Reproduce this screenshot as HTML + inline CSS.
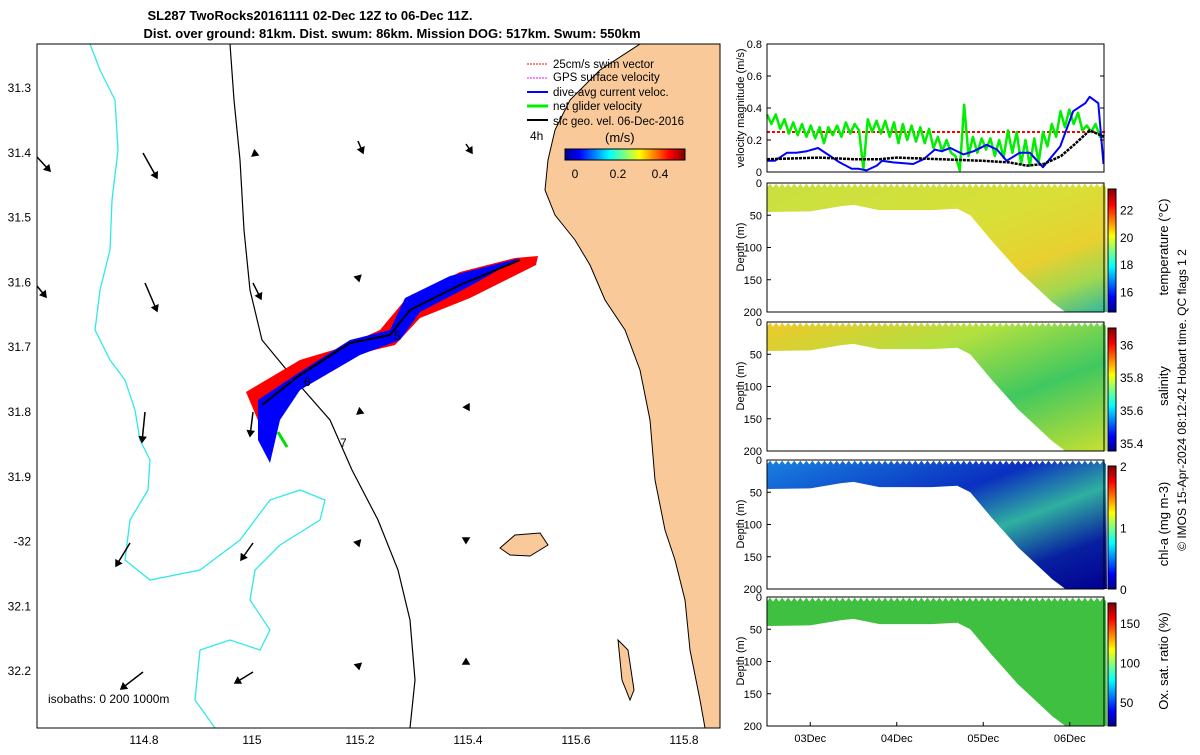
<!DOCTYPE html>
<html><head><meta charset="utf-8"><style>
body{margin:0;background:#fff;font-family:"Liberation Sans",sans-serif}
svg text{font-family:"Liberation Sans",sans-serif}
</style></head><body>
<svg id="s" width="1200" height="750" viewBox="0 0 1200 750" xmlns="http://www.w3.org/2000/svg">
<defs>
<linearGradient id="jet" x1="0" x2="1" y1="0" y2="0"><stop offset="0" stop-color="#00008f"/><stop offset=".12" stop-color="#0000ff"/><stop offset=".37" stop-color="#00ffff"/><stop offset=".5" stop-color="#7fff7f"/><stop offset=".62" stop-color="#ffff00"/><stop offset=".87" stop-color="#ff0000"/><stop offset="1" stop-color="#800000"/></linearGradient>
<linearGradient id="jetv" x1="0" x2="0" y1="1" y2="0"><stop offset="0" stop-color="#00008f"/><stop offset=".12" stop-color="#0000ff"/><stop offset=".37" stop-color="#00ffff"/><stop offset=".5" stop-color="#7fff7f"/><stop offset=".62" stop-color="#ffff00"/><stop offset=".87" stop-color="#ff0000"/><stop offset="1" stop-color="#800000"/></linearGradient>
<linearGradient id="gT" x1="0" x2="1" y1="0" y2="1"><stop offset="0" stop-color="#c8e040"/><stop offset=".45" stop-color="#d8e038"/><stop offset=".7" stop-color="#e8d030"/><stop offset=".85" stop-color="#a0d850"/><stop offset="1" stop-color="#30b8a0"/></linearGradient>
<linearGradient id="gS" x1="0" x2="1" y1="0" y2="1"><stop offset="0" stop-color="#f0c82a"/><stop offset=".35" stop-color="#b0e040"/><stop offset=".65" stop-color="#40c860"/><stop offset="1" stop-color="#c8e030"/></linearGradient>
<linearGradient id="gC" x1="0" x2="1" y1="0" y2="1"><stop offset="0" stop-color="#1880e0"/><stop offset=".4" stop-color="#0a30c0"/><stop offset=".6" stop-color="#30b0a0"/><stop offset=".8" stop-color="#0820a0"/><stop offset="1" stop-color="#000090"/></linearGradient>
</defs>
<text x="310" y="20" font-size="13" font-weight="bold" text-anchor="middle">SL287 TwoRocks20161111 02-Dec 12Z to 06-Dec 11Z.</text>
<text x="392" y="38" font-size="13" font-weight="bold" text-anchor="middle">Dist. over ground: 81km. Dist. swum: 86km. Mission DOG: 517km. Swum: 550km</text>
<g id="map">
<rect x="37" y="44" width="683" height="684" fill="#fff"/>
<path d="M640,44 L600,70 L570,100 L555,130 L548,160 L545,190 L555,215 L575,240 L590,265 L605,300 L625,330 L640,370 L650,420 L655,480 L665,530 L675,560 L685,600 L690,650 L700,700 L705,728 L720,728 L720,44 Z" fill="#f9c99a" stroke="#000" stroke-width="1"/>
<path d="M500,548 L515,535 L540,533 L548,545 L530,556 L510,555 Z" fill="#f9c99a" stroke="#000"/>
<path d="M618,640 L628,650 L634,690 L630,700 L622,680 Z" fill="#f9c99a" stroke="#000"/>
<polyline points="230,44 234,100 240,160 244,230 250,290 262,340 295,380 330,420 352,470 378,520 398,570 410,620 415,680 410,728" fill="none" stroke="#000" stroke-width="1.2"/>
<polyline points="90,44 100,70 115,100 118,150 112,200 110,250 100,290 95,330 110,360 125,380 135,410 140,440 150,460 148,490 130,520 125,560 150,580 200,570 240,540 270,500 300,490 325,500 320,520 280,545 255,570 250,600 270,630 260,650 230,640 200,650 195,700 215,728 M37,670 L60,640 L100,630 L130,660 L140,710 L150,728 M230,728 L180,700 L170,670 L200,660 L230,690 L240,728" fill="none" stroke="#30e8e8" stroke-width="1.3"/>
<path d="M246,392 L300,360 L340,348 L380,330 L405,300 L460,272 L515,258 L538,256 L536,265 L470,298 L420,318 L395,345 L350,356 L300,380 L268,412 L275,425 L262,430 Z" fill="#ff0000"/>
<path d="M258,400 L300,372 L350,340 L390,330 L405,298 L450,276 L520,258 L470,286 L420,312 L400,340 L360,355 L300,390 L280,420 L270,463 L258,440 Z" fill="#0000ff"/>
<polyline points="262,405 300,375 350,343 390,335 410,310 460,285 520,260" fill="none" stroke="#000" stroke-width="2"/>
<line x1="278" y1="432" x2="287" y2="447" stroke="#00e000" stroke-width="3"/>
<g font-size="12"><text x="394" y="340">5</text><text x="304" y="386">6</text><text x="340" y="447">7</text><text x="530" y="140">4h</text></g>
<g id="arrows" stroke="#000" stroke-width="1.5"></g>
<text x="48" y="703" font-size="12">isobaths: 0   200  1000m</text>
<rect x="37" y="44" width="683" height="684" fill="none" stroke="#000"/>
</g>
<g id="legend" font-size="11.5">
<line x1="527" y1="64" x2="548" y2="64" stroke="#f00" stroke-dasharray="2,1"/><text x="553" y="68">25cm/s swim vector</text>
<line x1="527" y1="78" x2="548" y2="78" stroke="#f0f" stroke-dasharray="2,1"/><text x="553" y="81">GPS surface velocity</text>
<line x1="527" y1="92" x2="548" y2="92" stroke="#00f" stroke-width="2"/><text x="553" y="96">dive-avg current veloc.</text>
<line x1="527" y1="106" x2="548" y2="106" stroke="#0e0" stroke-width="3"/><text x="553" y="110">net glider velocity</text>
<line x1="527" y1="120" x2="548" y2="120" stroke="#000" stroke-width="2"/><text x="553" y="125">sfc geo. vel. 06-Dec-2016</text>
<text x="605" y="142" font-size="13">(m/s)</text>
<rect x="565" y="149" width="120" height="11" fill="url(#jet)" stroke="#000"/>
<text x="575" y="178" font-size="12" text-anchor="middle">0</text><text x="618" y="178" font-size="12" text-anchor="middle">0.2</text><text x="660" y="178" font-size="12" text-anchor="middle">0.4</text>
</g>
<g id="mapticks" font-size="12"></g>
<g id="vel"></g>
<g id="sec"></g>
<text transform="translate(1186,400) rotate(-90)" font-size="12" text-anchor="middle">© IMOS 15-Apr-2024 08:12:42 Hobart time. QC flags 1  2</text>
</svg>
<script>
const NS="http://www.w3.org/2000/svg";
function mk(p,t,a){const e=document.createElementNS(NS,t);for(const k in a)e.setAttribute(k,a[k]);p.appendChild(e);return e;}
const lonTicks=[114.8,115,115.2,115.4,115.6,115.8];
const latTicks=["31.3","31.4","31.5","31.6","31.7","31.8","31.9","-32","32.1","32.2"];
const latVals=[31.3,31.4,31.5,31.6,31.7,31.8,31.9,32,32.1,32.2];
const mx=v=>144+(v-114.8)*540, my=v=>88+(v-31.3)*648;
const mt=document.getElementById('mapticks');
lonTicks.forEach(v=>{const t=mk(mt,'text',{x:mx(v),y:744,'text-anchor':'middle'});t.textContent=String(v);

});
latVals.forEach((v,i)=>{const t=mk(mt,'text',{x:31,y:my(v)+4,'text-anchor':'end'});t.textContent=latTicks[i];

});
const arrowList=[[37,157,13,14],[143,153,14,25],[253,153,5,2],[358,141,5,12],[466,144,6,9],[37,286,9,11],[145,283,12,28],[253,283,8,16],[358,277,1,4],[145,412,-3,30],[253,412,-3,24],[358,411,5,2],[466,405,3,5],[130,543,-14,23],[253,543,-12,17],[358,543,1,3],[466,540,0,3],[143,672,-22,17],[253,672,-18,11],[358,664,1,5],[466,664,0,-5]];
const ag=document.getElementById('arrows');
arrowList.forEach(a=>{const [x,y,dx,dy]=a;mk(ag,'line',{x1:x,y1:y,x2:x+dx,y2:y+dy});
const L=Math.hypot(dx,dy)||1,ux=dx/L,uy=dy/L;mk(ag,'path',{d:`M${x+dx},${y+dy} L${x+dx-5*ux+3*uy},${y+dy-5*uy-3*ux} L${x+dx-5*ux-3*uy},${y+dy-5*uy+3*ux} Z`,fill:'#000'});});
const X0=767,X1=1104,DPX=86.5;
const vx=t=>X0+t*DPX, vy=v=>172-v*160;
const velTicks=[0,0.2,0.4,0.6,0.8];
const blueT=[0,0.09,0.23,0.34,0.46,0.59,0.73,0.84,0.98,1.06,1.15,1.27,1.33,1.46,1.69,1.81,1.94,2.02,2.12,2.27,2.39,2.54,2.66,2.77,2.92,3.04,3.19,3.39,3.54,3.68,3.73,3.83,3.89];
const blueV=[0.07,0.07,0.12,0.12,0.13,0.15,0.10,0.06,0.02,0.02,0.01,0.04,0.07,0.06,0.05,0.08,0.14,0.13,0.15,0.11,0.13,0.17,0.14,0.07,0.12,0.12,0.03,0.16,0.38,0.43,0.47,0.43,0.05];
const blackT=[0,0.6,1.0,1.3,1.5,2.0,2.5,2.8,3.0,3.2,3.4,3.55,3.73,3.9];
const blackV=[0.08,0.09,0.08,0.08,0.09,0.08,0.07,0.06,0.04,0.05,0.1,0.17,0.26,0.22];
const greenV=[0.36,0.30,0.36,0.27,0.33,0.24,0.31,0.23,0.30,0.22,0.29,0.21,0.28,0.18,0.28,0.23,0.29,0.22,0.31,0.24,0.30,0.26,0.02,0.33,0.25,0.32,0.24,0.32,0.22,0.31,0.18,0.30,0.20,0.29,0.19,0.28,0.18,0.27,0.15,0.22,0.13,0.20,0.12,0.10,0.01,0.42,0.10,0.22,0.12,0.21,0.14,0.21,0.10,0.20,0.09,0.26,0.12,0.25,0.05,0.20,0.04,0.21,0.06,0.25,0.16,0.30,0.22,0.38,0.28,0.39,0.30,0.37,0.26,0.29,0.25,0.30,0.22,0.22];
const greenStep=3.9/(greenV.length-1);
const redT=[0,3.92], redV=[0.25,0.25];
const vel=document.getElementById('vel');
const line=(T,V,attrs,name)=>{const e=mk(vel,'polyline',Object.assign({points:T.map((t,i)=>vx(t)+','+vy(V[i])).join(' '),fill:'none','stroke-linejoin':'round'},attrs));

};
line(redT,redV,{stroke:'#f00','stroke-width':2,'stroke-dasharray':'3,2'},'swim-speed-line');
line(greenV.map((_,i)=>i*greenStep),greenV,{stroke:'#00ee00','stroke-width':2.5},'glider-speed-line');
line(blueT,blueV,{stroke:'#0000ff','stroke-width':2},'current-speed-line');
line(blackT,blackV,{stroke:'#000','stroke-width':2.5,'stroke-dasharray':'3,1'},'geo-speed-line');
mk(vel,'rect',{x:X0,y:44,width:X1-X0,height:128,fill:'none',stroke:'#000'});
velTicks.forEach(v=>{const t=mk(vel,'text',{x:762,y:vy(v)+4,'font-size':11,'text-anchor':'end'});t.textContent=String(v);


mk(vel,'line',{x1:X0,x2:X0+4,y1:vy(v),y2:vy(v),stroke:'#000'});mk(vel,'line',{x1:X1,x2:X1-4,y1:vy(v),y2:vy(v),stroke:'#000'});});
const vl=mk(vel,'text',{transform:'translate(744,108) rotate(-90)','font-size':11,'text-anchor':'middle'});vl.textContent='velocity magnitude (m/s)';
const botT=[0,0.5,0.85,1.0,1.3,1.5,1.9,2.2,2.35,2.6,2.9,3.1,3.3,3.45,3.75,3.93];
const botD=[45,44,36,34,42,42,42,40,50,90,135,160,185,200,200,200];
const panels=[{y:183,fill:'url(#gT)',name:'temperature',label:'temperature (°C)',cticks:['16','18','20','22'],cvals:[16,18,20,22],cmin:14.5,cmax:23.5},
{y:322,fill:'url(#gS)',name:'salinity',label:'salinity',cticks:['35.4','35.6','35.8','36'],cvals:[35.4,35.6,35.8,36],cmin:35.35,cmax:36.1},
{y:460,fill:'url(#gC)',name:'chlorophyll',label:'chl-a (mg m-3)',cticks:['0','1','2'],cvals:[0,1,2],cmin:0,cmax:2},
{y:597,fill:'#40c040',name:'oxygen',label:'Ox. sat. ratio (%)',cticks:['50','100','150'],cvals:[50,100,150],cmin:20,cmax:175}];
const depthTicks=[0,50,100,150,200];
const sec=document.getElementById('sec');
panels.forEach(p=>{const g=mk(sec,'g',{});


const dy=d=>p.y+d*129/200;
let pts=[];let k=0;for(let t=0;t<=3.93;t+=0.035){pts.push(vx(t)+','+dy(k%2?1:7));k++;}
for(let i=botT.length-1;i>=0;i--)pts.push(vx(botT[i])+','+dy(botD[i]));
mk(g,'polygon',{points:pts.join(' '),fill:p.fill});
mk(g,'rect',{x:X0,y:p.y,width:X1-X0,height:129,fill:'none',stroke:'#000'});
depthTicks.forEach(d=>{const t=mk(g,'text',{x:762,y:dy(d)+4,'font-size':11,'text-anchor':'end'});t.textContent=String(d);


mk(g,'line',{x1:X0,x2:X0+4,y1:dy(d),y2:dy(d),stroke:'#000'});});
const yl=mk(g,'text',{transform:`translate(744,${p.y+64}) rotate(-90)`,'font-size':11,'text-anchor':'middle'});yl.textContent='Depth (m)';
mk(g,'rect',{x:1108,y:p.y+6,width:8,height:123,fill:'url(#jetv)',stroke:'#000'});
p.cvals.forEach((v,i)=>{const yy=p.y+129-(v-p.cmin)/(p.cmax-p.cmin)*123;const t=mk(g,'text',{x:1120,y:yy+5,'font-size':12});t.textContent=p.cticks[i];

});
const cl=mk(g,'text',{transform:`translate(1168,${p.y+64}) rotate(-90)`,'font-size':13,'text-anchor':'middle'});cl.textContent=p.label;});
const dates=['03Dec','04Dec','05Dec','06Dec'];
dates.forEach((d,i)=>{const t=mk(sec,'text',{x:vx(i+0.5),y:742,'font-size':11,'text-anchor':'middle'});t.textContent=d;


mk(sec,'line',{x1:vx(i+0.5),x2:vx(i+0.5),y1:726,y2:722,stroke:'#000'});});
</script>
</body></html>
